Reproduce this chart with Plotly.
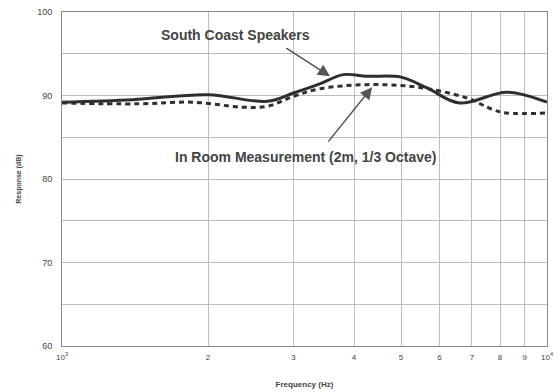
import numpy as np
import plotly.graph_objects as go

# South Coast Speakers (solid)
speaker_freq = [1000, 1400, 2000, 2650, 3000, 3400, 3800, 4250, 5000, 5660, 6600, 8270, 10000]
speaker_db = [89.2, 89.5, 90.1, 89.3, 90.3, 91.4, 92.5, 92.3, 92.2, 90.9, 89.1, 90.4, 89.2]

# In Room Measurement (dotted)
room_freq = [1000, 1430, 1860, 2360, 2650, 3000, 3400, 4250, 5400, 6840, 7740, 8270, 10000]
room_db = [89.1, 89.0, 89.2, 88.6, 88.7, 89.9, 90.8, 91.3, 91.0, 89.7, 88.3, 87.9, 87.9]

x_ticks = [1000, 2000, 3000, 4000, 5000, 6000, 7000, 8000, 9000, 10000]
x_ticktext = ["10<sup>3</sup>", "2", "3", "4", "5", "6", "7", "8", "9", "10<sup>4</sup>"]
y_ticks = [60, 70, 80, 90, 100]

line_color = '#2e2e2e'
grid_color = '#bdbdbd'
text_color = '#444444'

fig = go.Figure()

fig.add_trace(go.Scatter(
    x=speaker_freq, y=speaker_db,
    mode='lines',
    line=dict(color=line_color, width=3, shape='spline', smoothing=1.0),
    showlegend=False
))

fig.add_trace(go.Scatter(
    x=room_freq, y=room_db,
    mode='lines',
    line=dict(color=line_color, width=3, dash='5px,4px', shape='spline', smoothing=1.0),
    showlegend=False
))

# Labels with arrows
fig.add_annotation(
    x=np.log10(3570), y=92.3, ax=np.log10(2880), ay=95.8,
    xref='x', yref='y', axref='x', ayref='y',
    text='', showarrow=True, arrowhead=2, arrowsize=1.6, arrowwidth=1.5,
    arrowcolor='#555555'
)
fig.add_annotation(
    x=np.log10(2274), y=97.2, xref='x', yref='y',
    text='<b>South Coast Speakers</b>', showarrow=False,
    font=dict(family='Liberation Sans, Arial', size=14, color=text_color)
)
fig.add_annotation(
    x=np.log10(4360), y=91.0, ax=np.log10(3520), ay=84.3,
    xref='x', yref='y', axref='x', ayref='y',
    text='', showarrow=True, arrowhead=2, arrowsize=1.6, arrowwidth=1.5,
    arrowcolor='#555555'
)
fig.add_annotation(
    x=np.log10(3170), y=82.6, xref='x', yref='y',
    text='<b>In Room Measurement (2m, 1/3 Octave)</b>', showarrow=False,
    font=dict(family='Liberation Sans, Arial', size=14, color=text_color)
)

fig.update_layout(
    width=560, height=392,
    margin=dict(l=62, r=13, t=12, b=46),
    paper_bgcolor='white',
    plot_bgcolor='white',
    font=dict(family='Liberation Sans, Arial', color=text_color),
    xaxis=dict(
        type='log', range=[3, 4], automargin=False,
        tickvals=x_ticks, ticktext=x_ticktext,
        tickfont=dict(size=8, color=text_color),
        ticklabelstandoff=3,
        showgrid=True, gridcolor=grid_color, gridwidth=1,
        showline=True, linecolor='#888888', linewidth=1, mirror=True,
        ticks='', zeroline=False,
        title=dict(text='<b>Frequency (Hz)</b>', font=dict(size=8, color=text_color), standoff=20)
    ),
    yaxis=dict(
        range=[60, 100], automargin=False,
        tickvals=y_ticks,
        tickfont=dict(size=9, color=text_color),
        ticklabelstandoff=7,
        showgrid=True, gridcolor=grid_color, gridwidth=1,
        minor=dict(dtick=5, showgrid=True, gridcolor=grid_color, gridwidth=1),
        showline=True, linecolor='#888888', linewidth=1, mirror=True,
        ticks='', zeroline=False,
        title=dict(text='<b>Response (dB)</b>', font=dict(size=7, color=text_color), standoff=14)
    )
)

fig.write_html("out.html", config={'displayModeBar': False},
               post_script="document.body.style.margin='0';")
